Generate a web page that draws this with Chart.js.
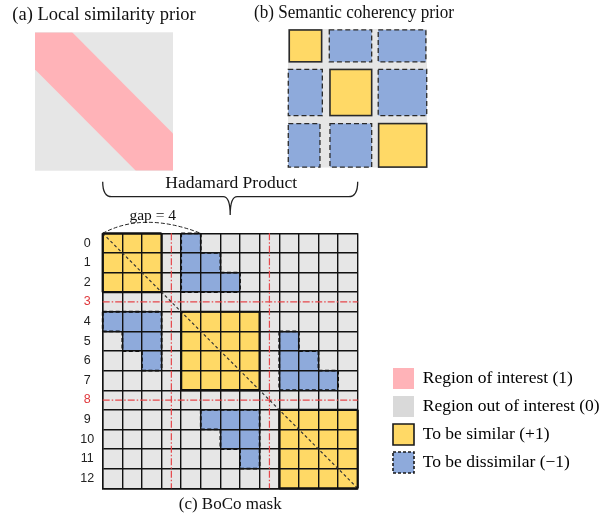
<!DOCTYPE html>
<html>
<head>
<meta charset="utf-8">
<script src="https://cdn.jsdelivr.net/npm/chart.js@4"></script>
<style>
  body { margin: 0; background: #fff; }
  #wrap { position: relative; width: 605px; height: 517px; overflow: hidden; background: #fff; }
  canvas { position: absolute; }
</style>
</head>
<body>
<div id="wrap">
  <canvas id="chartLocal" width="208" height="175" style="left:0;top:0"></canvas>
  <canvas id="chartSemantic" width="200" height="175" style="left:254px;top:0"></canvas>
  <canvas id="chartLegend" width="219" height="260" style="left:386px;top:361px"></canvas>
  <canvas id="chartMask" width="380" height="517" style="left:0;top:0"></canvas>
</div>
<script>
// (a) bande diagonale, en unités de la matrice (0..13)
const bandX = [0, 3.5, 9.5, 13];
const bandUpper = [0, 0, 6, 9.5];
const bandLower = [3.5, 7, 13, 13];

// (b) blocs sémantiques, en % du panneau
const semRows = [[0.7, 23.7], [29.2, 62.5], [68.3, 99.7]];
const semCols = [
    [[0.9, 24.2], [29.7, 60.2], [64.9, 99.2]],
    [[0.2, 24.7], [30.2, 60.2], [64.9, 99.8]],
    [[0.2, 23.0], [30.2, 60.2], [65.2, 99.8]]
];
const semTypes = ['ybb', 'byb', 'bby'];

// (c) masque BoCo : y = similaire, b = dissimilaire, . = hors région
const rowLabels = ['0', '1', '2', '3', '4', '5', '6', '7', '8', '9', '10', '11', '12'];
const maskRows = [
    'yyy.b........',
    'yyy.bb.......',
    'yyy.bbb......',
    '.............',
    'bbb.yyyy.....',
    '.bb.yyyy.b...',
    '..b.yyyy.bb..',
    '....yyyy.bbb.',
    '.............',
    '.....bbb.yyyy',
    '......bb.yyyy',
    '.......b.yyyy',
    '.........yyyy'
];
const separatorRows = [3, 8];
const gap = 4;

// légende
const legendLabels = ['Region of interest (1)', 'Region out of interest (0)', 'To be similar (+1)', 'To be dissimilar (\u22121)'];

const PINK = '#ffb3b8';
const GRAY = '#e6e6e6';
const GRAY_LEGEND = '#d9d9d9';
const YELLOW = '#ffd966';
const BLUE = '#8eaadb';
const INK = '#111';
const RED = '#e6474b';
const SERIF = "'Liberation Serif', 'Times New Roman', serif";

Chart.defaults.font.family = SERIF;
Chart.defaults.color = '#111';
Chart.defaults.animation = false;

// étend un domaine pour laisser des marges (px) à gauche et à droite
function withMargins(min, max, leftPx, rightPx, widthPx) {
    const u = (max - min) / (widthPx - leftPx - rightPx);
    return [min - leftPx * u, max + rightPx * u];
}

// fond gris du panneau, sur le domaine des données
const areaFill = {
    id: 'areaFill',
    beforeDraw(chart, args, opts) {
        const { ctx, scales: { x, y } } = chart;
        const x0 = x.getPixelForValue(opts.min), x1 = x.getPixelForValue(opts.max);
        const y0 = y.getPixelForValue(opts.min), y1 = y.getPixelForValue(opts.max);
        ctx.save();
        ctx.fillStyle = opts.color;
        ctx.fillRect(x0, y0, x1 - x0, y1 - y0);
        ctx.restore();
    }
};

const hiddenAxis = (range, reverse) => ({ type: 'linear', min: range[0], max: range[1], reverse: !!reverse, display: false });

// Panneau (a)
new Chart(document.getElementById('chartLocal'), {
    type: 'line',
    data: {
        datasets: [
            { data: bandX.map((x, i) => ({ x, y: bandUpper[i] })), fill: false },
            { data: bandX.map((x, i) => ({ x, y: bandLower[i] })), fill: '-1', backgroundColor: PINK }
        ]
    },
    options: {
        responsive: false,
        layout: { padding: { bottom: 4.3 } },
        elements: { point: { radius: 0 }, line: { borderWidth: 0, tension: 0 } },
        scales: { x: hiddenAxis(withMargins(0, 13, 35, 35, 208)), y: hiddenAxis([0, 13], true) },
        plugins: {
            legend: { display: false },
            tooltip: { enabled: false },
            areaFill: { color: GRAY, min: 0, max: 13 },
            title: {
                display: true,
                text: '(a) Local similarity prior',
                font: { size: 18.5, weight: 'normal', lineHeight: 1 },
                color: '#111',
                padding: { top: 5.5, bottom: 8.3 }
            }
        }
    },
    plugins: [areaFill]
});

// Panneau (b)
const semBlocks = {
    id: 'semBlocks',
    afterDraw(chart) {
        const { ctx, scales: { x, y } } = chart;
        ctx.save();
        semRows.forEach((rowSpan, r) => {
            semCols[r].forEach((colSpan, c) => {
                const similar = semTypes[r][c] === 'y';
                const x0 = x.getPixelForValue(colSpan[0]);
                const x1 = x.getPixelForValue(colSpan[1]);
                const y0 = y.getPixelForValue(rowSpan[0]);
                const y1 = y.getPixelForValue(rowSpan[1]);
                ctx.fillStyle = similar ? YELLOW : BLUE;
                ctx.fillRect(x0, y0, x1 - x0, y1 - y0);
                ctx.strokeStyle = '#2a2a2a';
                ctx.lineWidth = similar ? 1.6 : 1.3;
                ctx.setLineDash(similar ? [] : [5, 3]);
                ctx.strokeRect(x0, y0, x1 - x0, y1 - y0);
            });
        });
        ctx.restore();
    }
};

new Chart(document.getElementById('chartSemantic'), {
    type: 'scatter',
    data: { datasets: [{ data: [] }] },
    options: {
        responsive: false,
        layout: { padding: { bottom: 7.5 } },
        scales: { x: hiddenAxis(withMargins(0, 100, 34, 27, 200)), y: hiddenAxis([0, 100], true) },
        plugins: {
            legend: { display: false },
            tooltip: { enabled: false },
            areaFill: { color: GRAY, min: 0, max: 100 },
            title: {
                display: true,
                text: '(b) Semantic coherency prior',
                font: { size: 18.5, weight: 'normal', lineHeight: 1 },
                color: '#111',
                padding: { top: 3.5, bottom: 7 }
            }
        }
    },
    plugins: [areaFill, semBlocks]
});

// Panneau (c) : segments par ligne à partir du masque
function runsOf(row, ch) {
    const runs = [];
    let start = -1;
    for (let c = 0; c <= row.length; c++) {
        const on = row[c] === ch;
        if (on && start < 0) start = c;
        if (!on && start >= 0) { runs.push([start, c]); start = -1; }
    }
    return runs;
}

function runDatasets(ch, color) {
    const perRow = maskRows.map(row => runsOf(row, ch));
    const n = Math.max(...perRow.map(r => r.length));
    const sets = [];
    for (let k = 0; k < n; k++) {
        sets.push({ data: perRow.map(r => r[k] || null), backgroundColor: color, order: 1 });
    }
    return sets;
}

const maskDecor = {
    id: 'maskDecor',
    afterDraw(chart) {
        const { ctx, chartArea: a, scales: { x, y } } = chart;
        const cx = c => x.getPixelForValue(c);
        const cy = r => y.getPixelForValue(r - 0.5);
        const n = maskRows.length;
        ctx.save();

        // lignes de séparation rouges
        ctx.strokeStyle = RED;
        ctx.lineWidth = 1.2;
        ctx.setLineDash([7, 2, 1.5, 2]);
        separatorRows.forEach(s => {
            ctx.beginPath();
            ctx.moveTo(a.left, y.getPixelForValue(s));
            ctx.lineTo(a.right, y.getPixelForValue(s));
            ctx.moveTo(cx(s + 0.5), a.top);
            ctx.lineTo(cx(s + 0.5), a.bottom);
            ctx.stroke();
        });

        // diagonale
        ctx.strokeStyle = '#333';
        ctx.lineWidth = 1.2;
        ctx.setLineDash([3, 2.5]);
        ctx.beginPath();
        ctx.moveTo(cx(0), cy(0));
        ctx.lineTo(cx(n), cy(n));
        ctx.stroke();

        // contours des régions
        const at = (r, c) => (maskRows[r] || '')[c];
        const outline = (ch, width, dash) => {
            ctx.strokeStyle = '#111';
            ctx.lineWidth = width;
            ctx.setLineDash(dash);
            ctx.beginPath();
            maskRows.forEach((row, r) => {
                for (let c = 0; c < row.length; c++) {
                    if (row[c] !== ch) continue;
                    const x0 = cx(c), x1 = cx(c + 1), y0 = cy(r), y1 = cy(r + 1);
                    if (at(r - 1, c) !== ch) { ctx.moveTo(x0, y0); ctx.lineTo(x1, y0); }
                    if (at(r + 1, c) !== ch) { ctx.moveTo(x0, y1); ctx.lineTo(x1, y1); }
                    if (at(r, c - 1) !== ch) { ctx.moveTo(x0, y0); ctx.lineTo(x0, y1); }
                    if (at(r, c + 1) !== ch) { ctx.moveTo(x1, y0); ctx.lineTo(x1, y1); }
                }
            });
            ctx.stroke();
        };
        outline('y', 2.2, []);
        outline('b', 1.8, [4, 2.5]);

        // accolade "Hadamard Product"
        const x0 = cx(0), x1 = cx(n), xm = (x0 + x1) / 2;
        const yTop = a.top - 51.6, yMid = a.top - 36.6, yTip = a.top - 18.3;
        ctx.setLineDash([]);
        ctx.strokeStyle = '#222';
        ctx.lineWidth = 1.3;
        ctx.beginPath();
        ctx.moveTo(x0, yTop);
        ctx.quadraticCurveTo(x0, yMid, x0 + 9, yMid);
        ctx.lineTo(xm - 7, yMid);
        ctx.quadraticCurveTo(xm, yMid, xm, yTip);
        ctx.moveTo(xm, yTip);
        ctx.quadraticCurveTo(xm, yMid, xm + 7, yMid);
        ctx.lineTo(x1 - 9, yMid);
        ctx.quadraticCurveTo(x1, yMid, x1, yTop);
        ctx.stroke();

        ctx.fillStyle = '#111';
        ctx.textAlign = 'center';
        ctx.textBaseline = 'alphabetic';
        ctx.font = '17.5px ' + SERIF;
        ctx.fillText('Hadamard Product', xm + 1, a.top - 45.5);

        // arc "gap = 4"
        const g0 = cx(0), g1 = cx(gap + 1);
        ctx.strokeStyle = '#222';
        ctx.lineWidth = 1;
        ctx.setLineDash([4, 2]);
        ctx.beginPath();
        ctx.moveTo(g0, a.top);
        ctx.quadraticCurveTo((g0 + g1) / 2 - 8, a.top - 22, g1, a.top);
        ctx.stroke();
        ctx.font = '15.5px ' + SERIF;
        ctx.fillText('gap = ' + gap, (g0 + g1) / 2 + 1, a.top - 13.5);

        ctx.restore();
    }
};

const gridStyle = { color: INK, lineWidth: 1.4, drawTicks: false, z: 1 };
const borderStyle = { color: INK, width: 1.4, z: 1 };

new Chart(document.getElementById('chartMask'), {
    type: 'bar',
    data: {
        labels: rowLabels,
        datasets: [
            { data: maskRows.map(r => [0, r.length]), backgroundColor: GRAY, order: 5 },
            ...runDatasets('y', YELLOW),
            ...runDatasets('b', BLUE)
        ]
    },
    options: {
        responsive: false,
        indexAxis: 'y',
        grouped: false,
        barPercentage: 1,
        categoryPercentage: 1,
        borderWidth: 0,
        layout: { padding: { top: 233.3, left: 40, right: 22.3, bottom: 0 } },
        scales: {
            x: {
                type: 'linear', min: 0, max: 13, z: 1,
                ticks: { display: false, stepSize: 1 },
                grid: gridStyle,
                border: borderStyle,
                title: {
                    display: true, text: '(c) BoCo mask', color: '#111',
                    font: { size: 17 }, padding: { top: 0, bottom: 2.6 }
                },
                afterFit: s => { s.height = 28.7; }
            },
            y: {
                type: 'category', offset: true, z: 1,
                grid: { ...gridStyle, offset: true },
                border: borderStyle,
                ticks: {
                    padding: 8.5,
                    crossAlign: 'center',
                    font: { family: "'Liberation Sans', Arial, sans-serif", size: 12.5 },
                    color: c => separatorRows.includes(c.index) ? '#e0383c' : '#222'
                },
                afterFit: s => { s.width = 62.7; }
            }
        },
        plugins: { legend: { display: false }, tooltip: { enabled: false } }
    },
    plugins: [maskDecor]
});

// Légende
const legendFills = [PINK, GRAY_LEGEND, YELLOW, BLUE];
const legendStrokes = [0, 0, 1.6, 1.6];
const legendDashes = [[], [], [], [3, 2]];

new Chart(document.getElementById('chartLegend'), {
    type: 'bar',
    data: { datasets: [] },
    options: {
        responsive: false,
        scales: { x: { display: false }, y: { display: false } },
        plugins: {
            tooltip: { enabled: false },
            legend: {
                display: true,
                position: 'top',
                align: 'start',
                onClick: null,
                labels: {
                    boxWidth: 21,
                    boxHeight: 21,
                    padding: 7,
                    color: '#111',
                    font: { size: 17.5 },
                    generateLabels: () => legendLabels.map((text, i) => ({
                        text,
                        fillStyle: legendFills[i],
                        strokeStyle: '#1a1a1a',
                        lineWidth: legendStrokes[i],
                        lineDash: legendDashes[i],
                        hidden: false,
                        datasetIndex: i
                    }))
                }
            }
        }
    }
});
</script>
</body>
</html>
